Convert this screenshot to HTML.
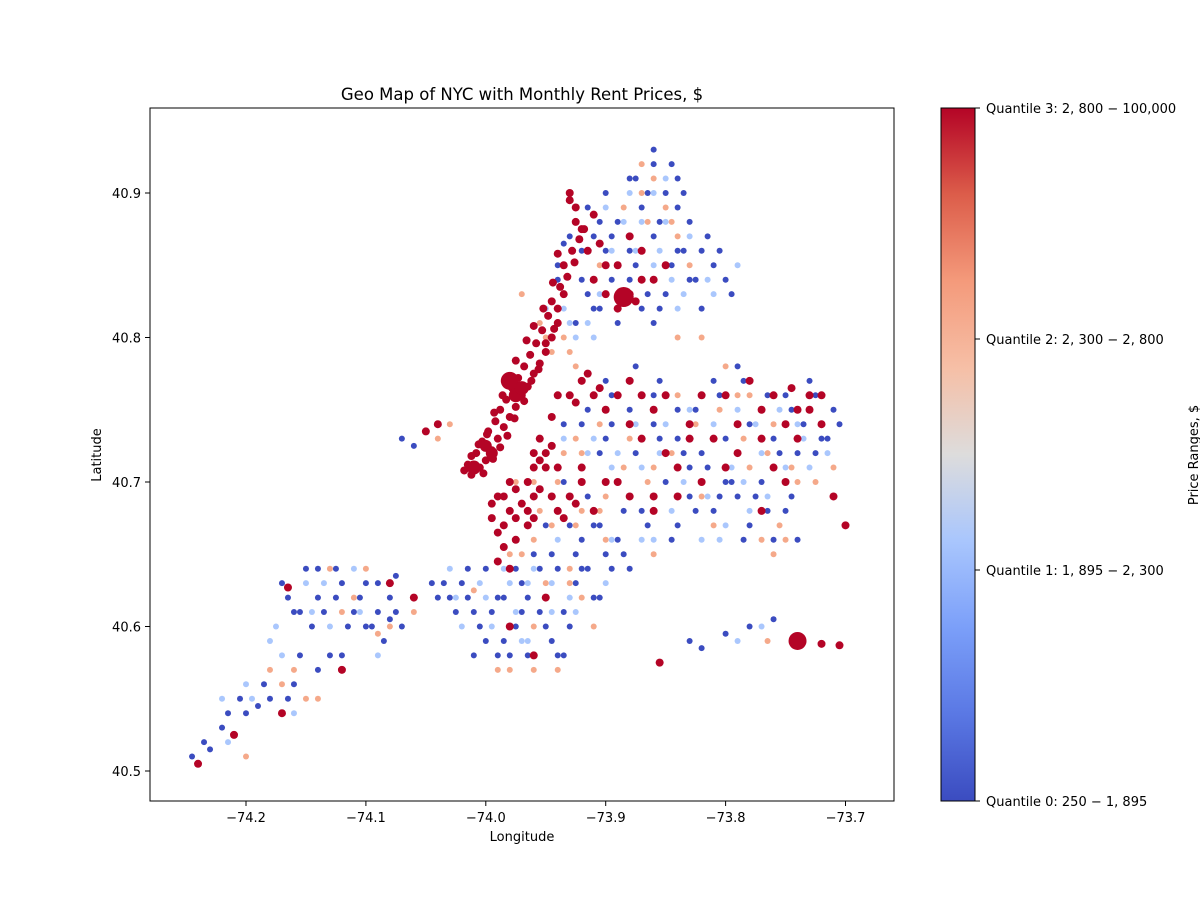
<!DOCTYPE html>
<html><head><meta charset="utf-8"><style>
body{margin:0;background:#fff;}
svg text{font-family:"DejaVu Sans","Liberation Sans",sans-serif;font-size:13px;fill:#000;}
</style></head><body>
<svg id="chart" width="1200" height="900" xmlns="http://www.w3.org/2000/svg">
<defs>
<linearGradient id="cw" x1="0" y1="1" x2="0" y2="0">
<stop offset="0" stop-color="#3b4cc0"/><stop offset="0.125" stop-color="#5a78e4"/><stop offset="0.25" stop-color="#7b9ff9"/><stop offset="0.375" stop-color="#a9c6fd"/><stop offset="0.5" stop-color="#dddcdc"/><stop offset="0.625" stop-color="#f6bfa6"/><stop offset="0.75" stop-color="#f49a7b"/><stop offset="0.875" stop-color="#dc5d4a"/><stop offset="1" stop-color="#b40426"/>
</linearGradient>
<clipPath id="clip"><rect x="150" y="108" width="744" height="693"/></clipPath>
</defs>
<text x="522" y="100" text-anchor="middle" style="font-size:16.5px">Geo Map of NYC with Monthly Rent Prices, $</text>
<g id="marks" clip-path="url(#clip)"></g>
<rect x="150" y="108" width="744" height="693" fill="none" stroke="#000" stroke-width="1"/>
<g id="xticks"></g>
<g id="yticks"></g>
<text x="522" y="841" text-anchor="middle">Longitude</text>
<text transform="translate(101,455) rotate(-90)" text-anchor="middle">Latitude</text>
<rect x="941" y="108" width="34" height="693" fill="url(#cw)" stroke="#000" stroke-width="1"/>
<g id="cbticks"></g>
<text transform="translate(1198,455) rotate(-90)" text-anchor="middle">Price Ranges, $</text>
</svg>
<script>
const xTicks=[-74.2,-74.1,-74.0,-73.9,-73.8,-73.7];
const yTicks=[40.5,40.6,40.7,40.8,40.9];
const cbLabels=["Quantile 0: 250 − 1, 895","Quantile 1: 1, 895 − 2, 300","Quantile 2: 2, 300 − 2, 800","Quantile 3: 2, 800 − 100,000"];
const qColors=["#3b4cc0","#aac7fd","#f5a98a","#b40426"];
const q0=[-73.90,40.90,-73.88,40.91,-73.86,40.92,-73.85,40.90,-73.84,40.89,-73.83,40.88,-73.87,40.89,-73.89,40.88,-73.91,40.87,-73.90,40.86,-73.88,40.86,-73.86,40.87,-73.84,40.86,-73.82,40.86,-73.83,40.84,-73.85,40.83,-73.87,40.82,-73.89,40.81,-73.91,40.82,-73.92,40.84,-73.80,40.84,-73.82,40.82,-73.86,40.81,-73.92,40.86,-73.93,40.87,-73.94,40.85,-73.86,40.93,-73.84,40.91,-73.88,40.84,-73.81,40.85,-73.935,40.865,-73.94,40.84,
-73.92,40.74,-73.90,40.73,-73.88,40.75,-73.86,40.74,-73.84,40.73,-73.82,40.72,-73.80,40.73,-73.78,40.74,-73.76,40.73,-73.74,40.72,-73.72,40.73,-73.71,40.75,-73.73,40.77,-73.75,40.76,-73.85,40.70,-73.83,40.69,-73.81,40.68,-73.79,40.69,-73.77,40.70,-73.75,40.68,-73.87,40.68,-73.84,40.67,-73.80,40.70,-73.86,40.76,-73.84,40.75,-73.81,40.77,-73.79,40.78,-73.90,40.77,-73.83,40.71,-73.74,40.66,-73.76,40.66,-73.78,40.67,
-73.95,40.60,-73.97,40.61,-73.99,40.62,-74.01,40.61,-74.02,40.63,-74.03,40.62,-74.00,40.59,-73.98,40.58,-73.94,40.58,-73.93,40.60,-73.91,40.62,-73.92,40.64,-73.94,40.64,-73.96,40.65,-73.90,40.65,-73.89,40.66,-73.92,40.66,-73.97,40.63,-74.00,40.64,-74.04,40.62,-73.88,40.64,-73.91,40.67,-73.93,40.67,-73.95,40.67,
-74.245,40.51,-74.23,40.515,-74.22,40.53,-74.20,40.54,-74.18,40.55,-74.16,40.56,-74.14,40.57,-74.12,40.58,-74.10,40.60,-74.09,40.61,-74.08,40.62,-74.10,40.63,-74.12,40.63,-74.14,40.62,-74.16,40.61,-74.17,40.63,-74.15,40.64,-74.07,40.60,-74.075,40.635,-74.11,40.61,-74.19,40.545,-74.13,40.58,
-73.82,40.585,-73.80,40.595,-73.78,40.60,-73.76,40.605,-73.83,40.59,-74.07,40.73,-74.06,40.725,
-73.915,40.89,-73.905,40.88,-73.895,40.87,-73.875,40.85,-73.865,40.83,-73.855,40.82,-73.845,40.85,-73.835,40.86,-73.825,40.84,-73.815,40.87,-73.805,40.86,-73.795,40.83,-73.875,40.91,-73.865,40.90,-73.855,40.88,-73.845,40.92,-73.835,40.90,-73.895,40.84,-73.905,40.82,-73.925,40.81,-73.915,40.83,
-73.935,40.74,-73.915,40.75,-73.895,40.74,-73.875,40.72,-73.855,40.73,-73.835,40.72,-73.815,40.71,-73.795,40.70,-73.775,40.69,-73.755,40.72,-73.735,40.74,-73.725,40.72,-73.715,40.73,-73.705,40.74,-73.745,40.69,-73.765,40.68,-73.785,40.66,-73.805,40.69,-73.825,40.68,-73.845,40.66,-73.865,40.67,-73.885,40.68,-73.905,40.72,-73.825,40.75,-73.805,40.76,-73.785,40.77,-73.765,40.76,-73.745,40.75,-73.725,40.76,-73.855,40.77,-73.875,40.78,-73.895,40.76,
-74.035,40.63,-74.025,40.61,-74.015,40.62,-74.005,40.60,-73.995,40.61,-73.985,40.59,-73.975,40.60,-73.965,40.62,-73.955,40.61,-73.945,40.59,-73.935,40.61,-73.925,40.63,-73.915,40.64,-73.905,40.62,-73.895,40.64,-73.885,40.65,-73.945,40.65,-73.955,40.64,-73.975,40.64,-73.985,40.62,-74.015,40.64,-74.045,40.63,-74.01,40.58,-73.99,40.58,-73.965,40.58,-73.935,40.58,-73.925,40.65,-73.905,40.67,-73.915,40.69,-73.935,40.70,
-74.235,40.52,-74.215,40.54,-74.205,40.55,-74.185,40.56,-74.165,40.55,-74.155,40.58,-74.145,40.60,-74.135,40.61,-74.125,40.62,-74.115,40.60,-74.105,40.62,-74.095,40.60,-74.085,40.59,-74.075,40.61,-74.165,40.62,-74.155,40.61,-74.125,40.64,-74.14,40.64,-74.09,40.63,-74.08,40.605];
const q1=[-73.95,40.82,-73.93,40.81,-73.91,40.80,-73.87,40.88,-73.85,40.88,-73.83,40.87,-73.81,40.83,-73.79,40.85,-73.88,40.90,-73.90,40.89,-73.86,40.85,-73.84,40.82,
-73.91,40.73,-73.89,40.72,-73.87,40.71,-73.85,40.74,-73.83,40.75,-73.81,40.74,-73.79,40.75,-73.77,40.72,-73.75,40.71,-73.73,40.71,-73.74,40.74,-73.78,40.68,-73.80,40.67,-73.82,40.66,-73.86,40.66,
-73.96,40.64,-73.98,40.63,-74.00,40.62,-73.95,40.62,-73.93,40.62,-73.97,40.59,-74.02,40.60,-74.03,40.64,-73.90,40.63,-73.94,40.66,
-74.13,40.60,-74.15,40.63,-74.11,40.64,-74.09,40.58,-74.17,40.58,-74.20,40.56,-74.22,40.55,-74.18,40.59,-73.79,40.59,-73.77,40.60,
-73.935,40.82,-73.925,40.80,-73.915,40.81,-73.905,40.83,-73.895,40.86,-73.885,40.88,-73.875,40.86,-73.855,40.86,-73.845,40.84,-73.835,40.83,-73.815,40.84,-73.86,40.90,-73.85,40.91,
-73.935,40.73,-73.915,40.72,-73.895,40.71,-73.875,40.74,-73.855,40.72,-73.835,40.70,-73.815,40.69,-73.795,40.71,-73.775,40.74,-73.755,40.75,-73.735,40.73,-73.715,40.72,-73.765,40.69,-73.785,40.70,-73.805,40.66,-73.845,40.68,-73.87,40.66,
-73.965,40.63,-73.975,40.61,-73.995,40.60,-74.005,40.63,-73.985,40.64,-73.945,40.63,-73.925,40.61,-73.945,40.61,-73.895,40.66,-73.965,40.59,-74.025,40.62,
-74.135,40.63,-74.145,40.61,-74.105,40.61,-74.175,40.60,-74.195,40.55,-74.215,40.52,-74.16,40.54];
const q2=[-73.97,40.83,-73.95,40.80,-73.93,40.79,-73.87,40.90,-73.86,40.91,-73.85,40.89,-73.84,40.87,-73.87,40.92,-73.82,40.80,-73.84,40.80,
-73.92,40.72,-73.88,40.73,-73.86,40.71,-73.84,40.76,-73.80,40.78,-73.78,40.76,-73.76,40.74,-73.74,40.70,-73.76,40.65,-73.75,40.66,-73.78,40.71,-73.82,40.69,-73.86,40.65,-73.71,40.71,
-73.96,40.70,-73.94,40.70,-73.92,40.68,-73.90,40.69,-73.96,40.66,-73.98,40.65,-73.94,40.57,-73.96,40.57,-73.99,40.57,-73.93,40.63,-73.91,40.60,
-74.14,40.55,-74.16,40.57,-74.13,40.64,-74.11,40.62,-74.08,40.60,-74.06,40.61,-74.20,40.51,-73.765,40.59,-74.04,40.73,-74.03,40.74,
-73.955,40.81,-73.945,40.79,-73.935,40.80,-73.925,40.78,-73.905,40.85,-73.885,40.89,-73.865,40.88,-73.845,40.88,-73.83,40.85,
-73.935,40.72,-73.925,40.73,-73.905,40.74,-73.885,40.71,-73.865,40.70,-73.845,40.72,-73.825,40.74,-73.805,40.75,-73.785,40.73,-73.765,40.72,-73.745,40.71,-73.725,40.70,-73.755,40.67,-73.77,40.66,-73.81,40.67,-73.79,40.76,
-73.975,40.70,-73.955,40.68,-73.945,40.67,-73.925,40.67,-73.905,40.68,-73.97,40.65,-73.95,40.63,-73.96,40.60,-73.98,40.57,-73.92,40.62,-73.93,40.64,-73.90,40.66,-74.01,40.625,
-74.15,40.55,-74.17,40.56,-74.12,40.61,-74.10,40.64,-74.09,40.595,-74.18,40.57];
const q3=[-74.012,40.705,-74.005,40.710,-74.015,40.712,-74.000,40.715,-74.008,40.720,-73.995,40.722,-74.003,40.728,-73.990,40.730,-73.998,40.735,-73.985,40.738,-73.992,40.742,-73.980,40.745,-73.988,40.750,-73.975,40.752,-73.983,40.757,-73.970,40.760,-73.978,40.765,-73.965,40.766,-73.973,40.772,-73.960,40.775,-73.968,40.780,-73.955,40.782,-73.963,40.788,-73.950,40.790,-73.958,40.796,-73.945,40.800,-73.953,40.805,-73.940,40.810,-73.948,40.815,-73.945,40.825,-73.938,40.835,-73.935,40.850,-73.928,40.860,-73.922,40.868,-73.918,40.875,-73.91,40.885,
-73.99,40.69,-73.98,40.68,-73.97,40.685,-73.995,40.675,-73.96,40.69,-73.955,40.715,-73.96,40.72,-73.95,40.71,-73.945,40.725,-73.99,40.665,-73.985,40.655,-73.98,40.70,-73.94,40.68,-73.93,40.69,-73.92,40.70,-73.91,40.68,
-73.945,40.745,-73.93,40.76,-73.92,40.77,-73.91,40.76,-73.90,40.75,-73.88,40.74,-73.87,40.73,-73.85,40.72,-73.84,40.71,-73.83,40.74,-73.82,40.76,-73.80,40.76,-73.78,40.77,-73.77,40.75,-73.76,40.76,-73.75,40.74,-73.74,40.75,-73.73,40.76,-73.72,40.74,-73.70,40.67,-73.71,40.69,-73.75,40.70,-73.79,40.72,-73.82,40.70,-73.86,40.69,-73.89,40.70,-73.77,40.68,
-73.93,40.895,-73.925,40.88,-73.915,40.86,-73.89,40.85,-73.86,40.84,-73.87,40.86,-73.90,40.83,-73.91,40.84,
-73.855,40.575,-73.72,40.588,-73.705,40.587,-74.165,40.627,-74.21,40.525,-74.17,40.54,-74.12,40.57,-74.06,40.62,-74.08,40.63,-74.24,40.505,-74.05,40.735,-74.04,40.74,-73.96,40.58,-73.95,40.62,-73.98,40.60,
-74.018,40.708,-74.002,40.706,-74.012,40.718,-73.994,40.716,-74.006,40.726,-73.988,40.724,-73.999,40.733,-73.982,40.732,-73.993,40.748,-73.976,40.744,-73.986,40.760,-73.968,40.756,-73.981,40.772,-73.962,40.770,-73.975,40.784,-73.956,40.778,-73.966,40.798,-73.950,40.796,-73.960,40.808,-73.943,40.806,-73.952,40.820,-73.940,40.820,-73.944,40.838,-73.932,40.842,-73.940,40.858,-73.926,40.852,
-73.995,40.685,-73.985,40.690,-73.975,40.675,-73.965,40.680,-73.955,40.695,-73.945,40.690,-73.965,40.700,-73.975,40.695,-73.96,40.71,-73.95,40.72,-73.94,40.71,-73.955,40.73,-73.985,40.67,-73.975,40.66,-73.965,40.67,-73.99,40.645,-73.98,40.64,-73.96,40.675,-73.935,40.675,-73.925,40.685,
-73.94,40.76,-73.925,40.755,-73.915,40.775,-73.905,40.765,-73.89,40.76,-73.88,40.77,-73.87,40.76,-73.86,40.75,-73.85,40.76,-73.83,40.73,-73.81,40.73,-73.79,40.74,-73.77,40.73,-73.76,40.71,-73.74,40.73,-73.745,40.765,-73.73,40.75,-73.72,40.76,-73.80,40.71,-73.84,40.69,-73.86,40.68,-73.88,40.69,-73.90,40.70,-73.92,40.71,
-73.93,40.90,-73.925,40.89,-73.92,40.875,-73.905,40.865,-73.90,40.85,-73.88,40.87,-73.87,40.84,-73.85,40.85,-73.89,40.82,-73.88,40.83,-73.875,40.825,-73.935,40.83];
const q3Big=[-73.885,40.828,-73.74,40.59,-73.98,40.77,-74.01,40.71,-73.975,40.76,-74.0,40.725,-73.97,40.765,-73.995,40.72];
const q3BigSize=[10,9,9,7,7,6,7,6];

const SVGNS="http://www.w3.org/2000/svg";
const xS=v=>246+(v+74.2)*1199;
const yS=v=>771-(v-40.5)*1445;
const marks=document.getElementById('marks');
function dot(lon,lat,r,c){
  const e=document.createElementNS(SVGNS,'circle');
  e.setAttribute('cx',xS(lon));e.setAttribute('cy',yS(lat));e.setAttribute('r',r);e.setAttribute('fill',c);
  
  
  marks.appendChild(e);
}
[q0,q1,q2,q3].forEach((arr,qi)=>{for(let i=0;i<arr.length;i+=2)dot(arr[i],arr[i+1],qi===3?4:3,qColors[qi]);});
for(let i=0;i<q3Big.length;i+=2)dot(q3Big[i],q3Big[i+1],q3BigSize[i/2],qColors[3]);

function txt(g,x,y,s,anchor){
  const t=document.createElementNS(SVGNS,'text');
  t.setAttribute('x',x);t.setAttribute('y',y);t.setAttribute('text-anchor',anchor);t.textContent=s;
  
  
  g.appendChild(t);
}
function line(g,x1,y1,x2,y2){
  const l=document.createElementNS(SVGNS,'line');
  l.setAttribute('x1',x1);l.setAttribute('y1',y1);l.setAttribute('x2',x2);l.setAttribute('y2',y2);l.setAttribute('stroke','#000');
  
  
  g.appendChild(l);
}
const gx=document.getElementById('xticks');
xTicks.forEach(v=>{const x=xS(v);line(gx,x,801,x,806);txt(gx,x,822,'−'+Math.abs(v).toFixed(1),'middle');});
const gy=document.getElementById('yticks');
yTicks.forEach(v=>{const y=yS(v);line(gy,145,y,150,y);txt(gy,141,y+5,v.toFixed(1),'end');});
const gc=document.getElementById('cbticks');
cbLabels.forEach((s,i)=>{const y=801-i*(693/3);line(gc,975,y,980,y);txt(gc,986,y+5,s,'start');});
</script>
</body></html>
